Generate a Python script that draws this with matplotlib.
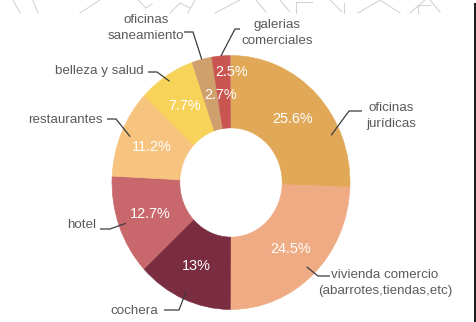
import matplotlib
matplotlib.use("Agg")
import numpy as np
import matplotlib.pyplot as plt
from matplotlib.lines import Line2D
from matplotlib.patches import Rectangle

# --- data -------------------------------------------------------------
categories = [
    "oficinas\njurídicas",
    "vivienda comercio\n(abarrotes,tiendas,etc)",
    "cochera",
    "hotel",
    "restaurantes",
    "belleza y salud",
    "oficinas\nsaneamiento",
    "galerias\ncomerciales",
]
shares = [25.6, 24.5, 13, 12.7, 11.2, 7.7, 2.7, 2.5]
colors = ["#E1A957", "#EFAC84", "#7A2D41", "#C9686C",
          "#F6C47E", "#F8D35A", "#D0A06C", "#C95551"]

# --- canvas geometry (pixels) ------------------------------------------
W, H = 477, 322
CX, CY, RX, RY = 231, 182.5, 119, 127


def px(x, y):
    """pixel position -> data coordinates of the full-figure axes"""
    return (x - CX) / RX, (CY - y) / RY


plt.rcParams["font.family"] = ["Liberation Sans", "DejaVu Sans"]

fig = plt.figure(figsize=(W / 100, H / 100), dpi=100)
fig.patch.set_facecolor("white")
ax = fig.add_axes([0, 0, 1, 1])

wedges, _ = ax.pie(
    [s / 100 for s in shares], colors=colors, startangle=90,
    counterclock=False, normalize=False, radius=1,
    wedgeprops=dict(width=0.57, linewidth=0.4),
)
# close the anti-aliasing seams between neighbouring slices
for w in wedges:
    w.set_edgecolor(w.get_facecolor())
ax.set_aspect("auto")
xl, yt = px(0, 0)
xr, yb = px(W, H)
ax.set_xlim(xl, xr)
ax.set_ylim(yb, yt)
ax.axis("off")

# --- percentage labels ---------------------------------------------------
pct_override = {6: (221, 95), 7: (232, 72)}
for i, (w, s) in enumerate(zip(wedges, shares)):
    mid = np.deg2rad((w.theta1 + w.theta2) / 2)
    if i in pct_override:
        tx, ty = px(*pct_override[i])
    else:
        tx, ty = 0.72 * np.cos(mid), 0.72 * np.sin(mid)
    ax.text(tx, ty, f"{s:g}%", color="white", fontsize=10.4,
            ha="center", va="center")

# --- category labels with leader lines ------------------------------------
label_layout = [
    dict(text=(391, 116), ha="center", elbow=(349, 111), end=(362, 111), angle=23.8, r=0.92),
    dict(text=(385, 283), ha="center", elbow=(318, 276), end=(330, 276), r=0.92),
    dict(text=(158, 311), ha="right", elbow=(179, 310), end=(164, 310), r=0.94),
    dict(text=(96, 225), ha="right", elbow=(110, 229), end=(100, 229), r=0.94),
    dict(text=(103, 120), ha="right", elbow=(116, 119), end=(107, 119), r=0.92),
    dict(text=(144, 71), ha="right", elbow=(157, 72), end=(148, 72), r=0.95),
    dict(text=(146, 28), ha="center", elbow=(193, 32), end=(184, 32), r=1.0),
    dict(text=(277, 33), ha="center", elbow=(235, 29), end=(240, 29), r=1.0),
]
for w, name, lay in zip(wedges, categories, label_layout):
    ang = np.deg2rad(lay.get("angle", (w.theta1 + w.theta2) / 2))
    ax0, ay0 = lay["r"] * np.cos(ang), lay["r"] * np.sin(ang)
    ex, ey = px(*lay["elbow"])
    nx, ny = px(*lay["end"])
    ax.plot([ax0, ex, nx], [ay0, ey, ny], color="#3c3c3c", lw=0.9,
            solid_capstyle="butt", solid_joinstyle="miter")
    tx, ty = px(*lay["text"])
    ax.text(tx, ty, name, color="#5a5a5a", fontsize=9.6, ha=lay["ha"],
            va="center", multialignment="center", linespacing=1.35)

# --- faint line drawing along the top edge --------------------------------
sketch = [
    ((13, 0), (20, 13)), ((33, 0), (36, 8)), ((36, 8), (38, 13)),
    ((80, 13), (100, 0)), ((138, 0), (146, 8)), ((146, 8), (152, 4)),
    ((170, 13), (180, 3)), ((180, 3), (190, 8)), ((188, 13), (195, 0)),
    ((215, 13), (240, 0)), ((256, 0), (266, 12)), ((280, 0), (290, 12)),
    ((296, 2), (296, 13)), ((296, 2), (312, 2)), ((330, 0), (342, 12)),
    ((344, 3), (344, 13)), ((358, 13), (380, 0)), ((380, 0), (400, 13)),
    ((410, 13), (425, 0)), ((418, 5), (418, 13)), ((418, 5), (430, 5)),
    ((430, 0), (440, 12)),
]
for (x0, y0), (x1, y1) in sketch:
    fig.add_artist(Line2D([x0 / W, x1 / W], [1 - y0 / H, 1 - y1 / H],
                          transform=fig.transFigure, color="#d4d4d4", lw=0.8))

# dark frame edge on the right
fig.add_artist(Rectangle((474 / W, 0), 3 / W, 1 - 3 / H, transform=fig.transFigure,
                         color="#1e1e1e", lw=0))

fig.savefig("out.png", dpi=100)
